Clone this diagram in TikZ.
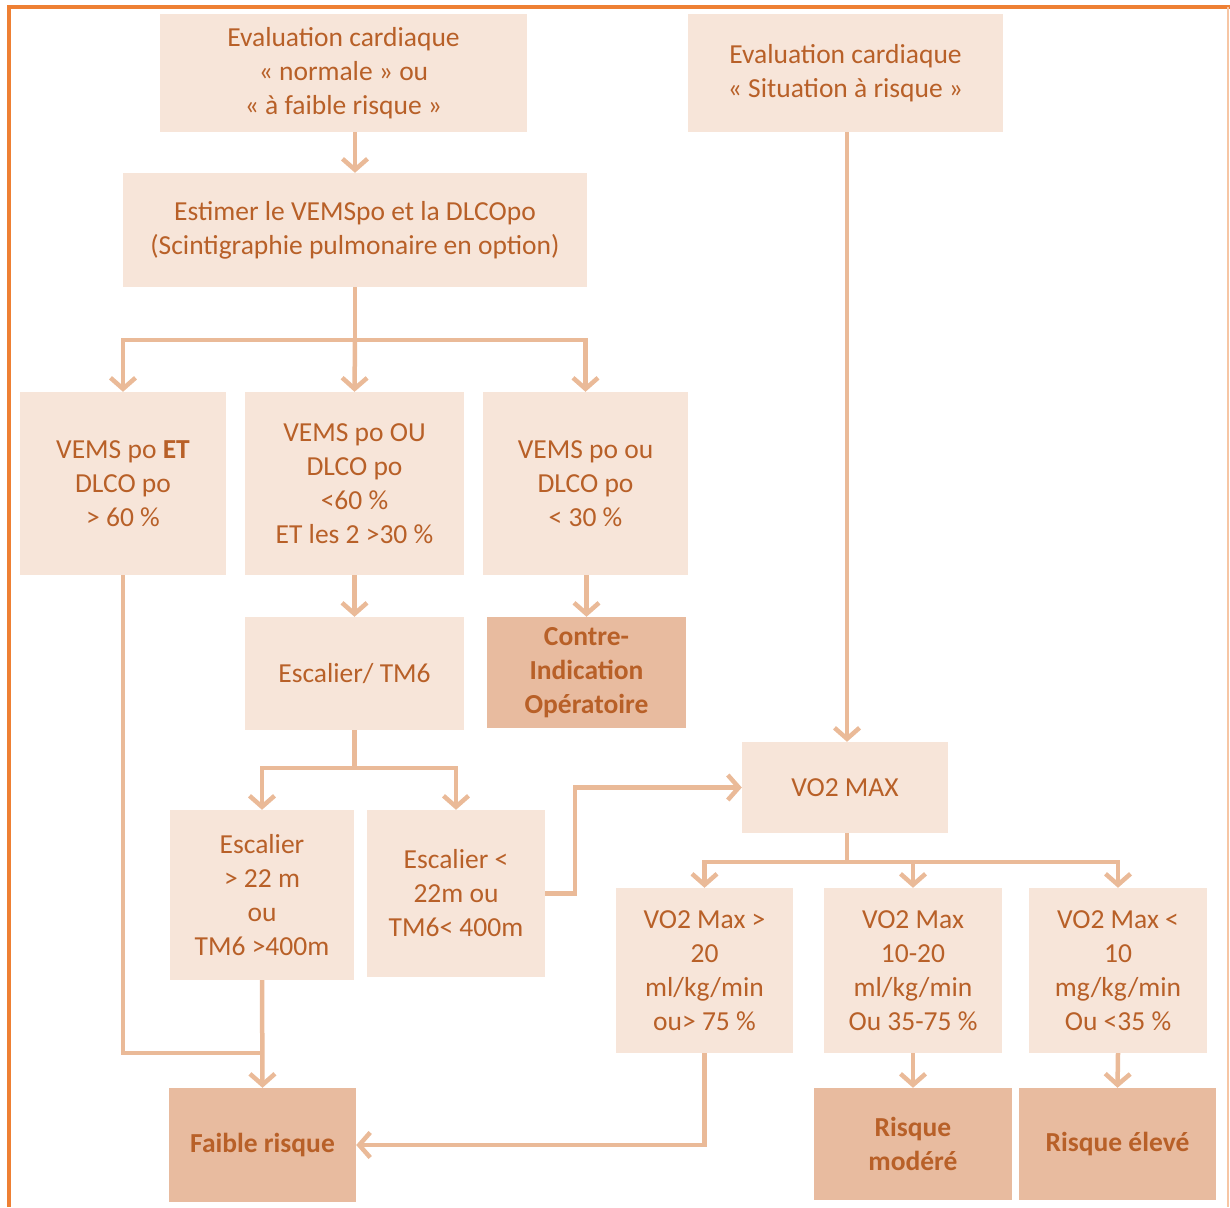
\documentclass[tikz,border=0pt]{standalone}
\usepackage{fontspec}
\setmainfont{Carlito}
\usepackage{xcolor}
\usetikzlibrary{positioning,arrows.meta}

\definecolor{boxlight}{RGB}{247,229,217}
\definecolor{boxdark}{RGB}{232,187,159}
\definecolor{inkc}{RGB}{184,96,40}
\definecolor{linkc}{RGB}{234,186,152}
\definecolor{framec}{RGB}{238,128,52}

\begin{document}
\begin{tikzpicture}[
  x=1pt, y=-1pt,
  font=\fontsize{27.5}{34}\selectfont,
  box/.style={fill=boxlight, text=inkc, align=center, inner sep=0pt,
              minimum width=#1},
  box/.default=200pt,
  outcome/.style={box=#1, fill=boxdark, font=\fontsize{27.5}{34}\selectfont\bfseries},
  outcome/.default=190pt,
  link/.style={draw=linkc, line width=4.5pt},
  >={Straight Barb[length=11pt,width=25pt]}
]
\useasboundingbox (0,0) rectangle (1230,1207);
% frame
\draw[framec, line width=3.5pt] (9,1207) -- (9,7) -- (1230,7);
\draw[framec!45, line width=1.5pt] (1228,7) -- (1228,1207);

% left branch
\node[box=367pt, minimum height=118pt] (evalnorm) at (343.5,73) {Evaluation cardiaque\\« normale » ou\\« à faible risque »};
\node[box=464pt, minimum height=114pt] (estim) at (355,230) {Estimer le VEMSpo et la DLCOpo\\(Scintigraphie pulmonaire en option)};
\node[box=206pt, minimum height=183pt] (vemsok) at (123,483.5) {VEMS po \textbf{ET}\\DLCO po\\> 60 \%};
\node[box=219pt, minimum height=183pt] (vemsmid) at (354.5,483.5) {VEMS po OU\\DLCO po\\<60 \%\\ET les 2 >30 \%};
\node[box=205pt, minimum height=183pt] (vemslow) at (585.5,483.5) {VEMS po ou\\DLCO po\\< 30 \%};
\node[box=219pt, minimum height=113pt] (escalier) at (354.5,673.5) {Escalier/ TM6};
\node[outcome=199pt, minimum height=111pt] (contre) at (586.5,672.5) {Contre-\\Indication\\Opératoire};
\node[box=184pt, minimum height=170pt] (escok) at (262,895) {Escalier\\> 22 m\\ou\\TM6 >400m};
\node[box=178pt, minimum height=167pt] (esclow) at (456,893.5) {Escalier <\\22m ou\\TM6< 400m};

% right branch
\node[box=315pt, minimum height=118pt] (evalrisk) at (845.5,73) {Evaluation cardiaque\\« Situation à risque »};
\node[box=206pt, minimum height=91pt] (vomax) at (845,787.5) {VO2 MAX};
\node[box=177pt, minimum height=165pt] (vohigh) at (704.5,970.5) {VO2 Max >\\20\\ml/kg/min\\ou> 75 \%};
\node[box=178pt, minimum height=165pt] (vomid) at (913,970.5) {VO2 Max\\10-20\\ml/kg/min\\Ou 35-75 \%};
\node[box=178pt, minimum height=165pt] (volow) at (1118,970.5) {VO2 Max <\\10\\mg/kg/min\\Ou <35 \%};

% outcomes
\node[outcome=187pt, minimum height=114pt] (faible) at (262.5,1145) {Faible risque};
\node[outcome=198pt, minimum height=112pt] (modere) at (913,1144) {Risque\\modéré};
\node[outcome=197pt, minimum height=112pt] (eleve) at (1117.5,1144) {Risque élevé};

% connectors
\draw[link,->] (estim.north |- evalnorm.south) -- (estim.north);
\draw[link] (estim.south) -- ++(0,53) coordinate (splitvems);
\draw[link,->] (splitvems) -| (vemsok.north);
\draw[link,->] (splitvems) -| (vemslow.north);
\draw[link,->] (splitvems) -- (vemsmid.north);
\draw[link,->] (vemsmid.south) -- (escalier.north);
\draw[link,->] (vemslow.south -| contre.north) -- (contre.north);
\draw[link] (escalier.south) -- ++(0,38) coordinate (splitesc);
\draw[link,->] (splitesc) -| (escok.north);
\draw[link,->] (splitesc) -| (esclow.north);
\coordinate (joinfaible) at (262,1053);
\draw[link,->] (escok.south) -- (faible.north);
\draw[link] (vemsok.south) |- (joinfaible);
\draw[link,->] (esclow.east) -- ++(30,0) |- (vomax.west);
\draw[link,->] (evalrisk.south -| 847,0) -- (vomax.north -| 847,0);
\draw[link] (vomax.south -| 847,0) -- ++(0,29) coordinate (splitvo);
\draw[link,->] (splitvo) -| (vohigh.north);
\draw[link,->] (splitvo) -| (vomid.north);
\draw[link,->] (splitvo) -| (volow.north);
\draw[link,->] (vohigh.south) |- (faible.east);
\draw[link,->] (vomid.south) -- (modere.north);
\draw[link,->] (volow.south) -- (eleve.north);
\end{tikzpicture}
\end{document}
